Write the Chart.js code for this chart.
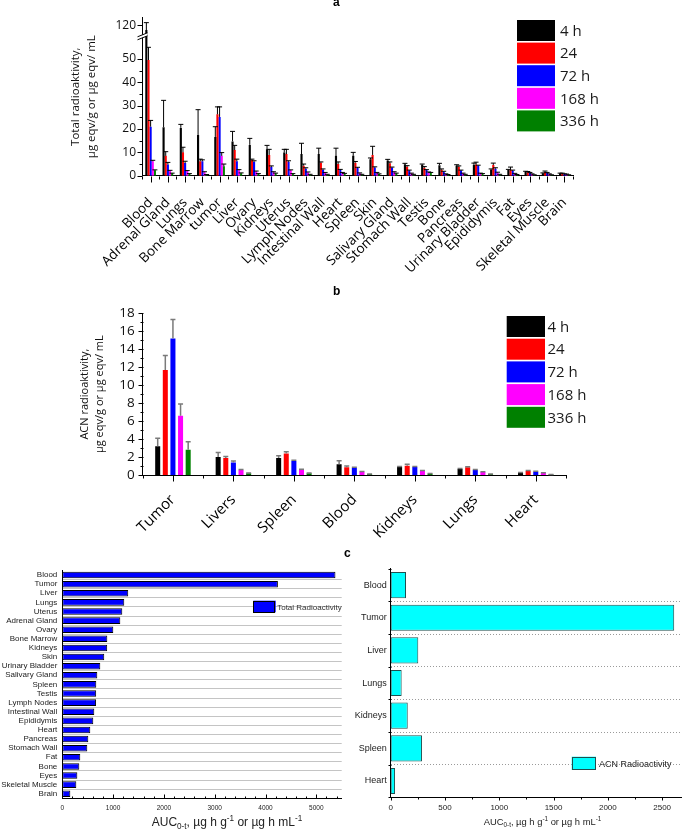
<!DOCTYPE html>
<html><head><meta charset="utf-8">
<script src="https://cdn.jsdelivr.net/npm/chart.js@4.4.1/dist/chart.umd.min.js"></script>
<style>
body{margin:0;background:#fff;width:683px;height:829px;position:relative;overflow:hidden;}
canvas{position:absolute;}
.pl{position:absolute;font:bold 12px "Liberation Sans",Arial,sans-serif;color:#000;line-height:12px;}
</style></head><body>
<canvas id="ca" width="683" height="290" style="left:0;top:0"></canvas>
<canvas id="cb" width="683" height="255" style="left:0;top:290px"></canvas>
<canvas id="cc1" width="345" height="284" style="left:0;top:545px"></canvas>
<canvas id="cc2" width="338" height="284" style="left:345px;top:545px"></canvas>
<div class="pl" style="left:333px;top:-4px">a</div>
<div class="pl" style="left:333px;top:285px">b</div>
<div class="pl" style="left:344px;top:547px">c</div>
<script>
// ---------- DATA ----------
const seriesLabels = ['4 h', '24', '72 h', '168 h', '336 h'];
const seriesColors = ['#000000', '#ff0000', '#0000ff', '#ff00ff', '#008000'];

const catsA = ['Blood','Adrenal Gland','Lungs','Bone Marrow','tumor','Liver','Ovary','Kidneys','Uterus','Lymph Nodes','Intestinal Wall','Heart','Spleen','Skin','Salivary Gland','Stomach Wall','Testis','Bone','Pancreas','Urinary Bladder','Epididymis','Fat','Eyes','Skeletal Muscle','Brain'];
const a4h    = [116, 20.8, 20.5, 17.4, 16.6, 14.7, 13.2, 11.3, 9.9, 9.3, 9.3, 8.5, 8.5, 7.0, 6.5, 4.9, 4.7, 4.5, 4.3, 4.7, 2.7, 2.4, 1.7, 1.0, 1.0];
const a4hErr = [6, 11.5, 1.5, 10.9, 4.4, 4.3, 2.8, 1.7, 1.4, 4.6, 2.5, 3.3, 1.5, 0.6, 0.5, 0.4, 0.3, 0.8, 0.4, 0.7, 0.2, 0.3, 0.2, 0.2, 0.1];
const a24    = [49.6, 8.5, 10, 6.2, 26.3, 11, 6.7, 8.9, 9.3, 4.3, 5.6, 5.0, 5.6, 8.9, 5.3, 3.8, 3.4, 2.6, 3.8, 4.8, 4.6, 2.6, 1.5, 1.6, 0.9];
const a24Err = [5.8, 1.8, 2.2, 0.9, 3.2, 2, 0.4, 2.4, 2, 0.7, 0.3, 0.9, 0.5, 3.7, 0.6, 0.5, 0.5, 0.3, 0.4, 1.0, 0.8, 1.1, 0.3, 0.4, 0.2];
const a72    = [21, 4.8, 5.4, 6.2, 25.2, 6.2, 6.0, 3.7, 6.0, 3.0, 2.6, 2.4, 3.3, 3.5, 3.4, 2.2, 2.4, 1.7, 2.2, 4.4, 3.0, 2.1, 1.3, 1.3, 0.7];
const a72Err = [2.7, 0.9, 0.8, 0.6, 4.3, 0.9, 0.4, 0.5, 0.4, 0.4, 0.3, 0.3, 0.3, 0.3, 0.3, 0.2, 0.2, 0.2, 0.2, 0.1, 0.4, 0.3, 0.1, 0.1, 0.1];
const a168   = [6.2, 2.1, 2.0, 1.5, 8.5, 2.3, 1.8, 1.5, 2.3, 1.4, 1.2, 1.2, 1.0, 1.2, 1.5, 1.0, 1.4, 0.7, 1.0, 1.0, 1.3, 0.9, 0.7, 0.7, 0.6];
const a168Err= [0.4, 0.2, 0.2, 0.2, 1.4, 0.3, 0.2, 0.2, 0.2, 0.2, 0.2, 0.2, 0.2, 0.2, 0.2, 0.1, 0.2, 0.1, 0.1, 0.1, 0.2, 0.1, 0.1, 0.1, 0.1];
const a336   = [2.3, 1.0, 0.8, 0.4, 4.0, 1.0, 0.8, 1.0, 0.8, 0.5, 0.5, 0.9, 0.5, 0.7, 1.0, 0.5, 1.3, 0.4, 0.5, 0.8, 0.5, 0.4, 0.3, 0.3, 0.3];
const a336Err= [0.2, 0.1, 0.1, 0.1, 1.0, 0.2, 0.1, 0.1, 0.1, 0.1, 0.1, 0.1, 0.1, 0.1, 0.1, 0.1, 0.1, 0.1, 0.1, 0.1, 0.1, 0.1, 0.1, 0.1, 0.1];
const yTicksA = [0, 10, 20, 30, 40, 50, 120];

const catsB = ['Tumor','Livers','Spleen','Blood','Kidneys','Lungs','Heart'];
const b4h    = [3.2, 2.0, 1.9, 1.2, 0.9, 0.67, 0.26];
const b4hErr = [0.9, 0.5, 0.25, 0.4, 0.05, 0.05, 0.03];
const b24    = [11.7, 1.9, 2.4, 0.85, 1.04, 0.85, 0.45];
const b24Err = [1.6, 0.15, 0.2, 0.15, 0.15, 0.08, 0.05];
const b72    = [15.2, 1.4, 1.55, 0.8, 0.9, 0.55, 0.37];
const b72Err = [2.1, 0.15, 0.1, 0.05, 0.05, 0.07, 0.05];
const b168   = [6.6, 0.55, 0.6, 0.35, 0.45, 0.33, 0.22];
const b168Err= [1.3, 0.05, 0.05, 0.04, 0.04, 0.04, 0.03];
const b336   = [2.8, 0.2, 0.2, 0.1, 0.15, 0.1, 0.05];
const b336Err= [0.9, 0.02, 0.02, 0.02, 0.02, 0.02, 0.01];
const yTicksB = [0, 2, 4, 6, 8, 10, 12, 14, 16, 18];

const catsC1 = ['Blood','Tumor','Liver','Lungs','Uterus','Adrenal Gland','Ovary','Bone Marrow','Kidneys','Skin','Urinary Bladder','Salivary Gland','Spleen','Testis','Lymph Nodes','Intestinal Wall','Epididymis','Heart','Pancreas','Stomach Wall','Fat','Bone','Eyes','Skeletal Muscle','Brain'];
const aucTotal = [5377, 4244, 1298, 1220, 1181, 1142, 1004, 886, 884, 826, 748, 689, 669, 667, 665, 630, 610, 551, 512, 492, 354, 335, 296, 276, 158];
const xTicksC1 = [0, 1000, 2000, 3000, 4000, 5000];

const catsC2 = ['Blood','Tumor','Liver','Lungs','Kidneys','Spleen','Heart'];
const aucACN = [141, 2611, 254, 101, 157, 288, 40];
const xTicksC2 = [0, 500, 1000, 1500, 2000, 2500];

// ---------- helpers ----------
const range = (a, b, s) => { const r = []; for (let v = a; v <= b + 1e-9; v += s) r.push(+v.toFixed(4)); return r; };
const OS = "'Open Sans', 'DejaVu Sans', sans-serif";
const LS = "'Liberation Sans', Arial, sans-serif";
const fixTicks = arr => (s => { s.ticks = arr.map(v => ({ value: v })); });
const plain = v => String(v);

// broken y axis (panel a)
const BRK = [[0, 0], [55, 0.812], [112, 0.8905], [126, 1]];
function toFrac(v) {
  for (let i = 1; i < BRK.length; i++) {
    if (v <= BRK[i][0] || i === BRK.length - 1) {
      const [v0, f0] = BRK[i - 1], [v1, f1] = BRK[i];
      return f0 + (v - v0) / (v1 - v0) * (f1 - f0);
    }
  }
}
function fromFrac(f) {
  for (let i = 1; i < BRK.length; i++) {
    if (f <= BRK[i][1] || i === BRK.length - 1) {
      const [v0, f0] = BRK[i - 1], [v1, f1] = BRK[i];
      return v0 + (f - f0) / (f1 - f0) * (v1 - v0);
    }
  }
}
class BrokenScale extends Chart.LinearScale {
  static id = 'broken';
  static defaults = {};
  getPixelForValue(v) {
    if (v === null || v === undefined || isNaN(v)) return NaN;
    return this.getPixelForDecimal(toFrac(v));
  }
  getValueForPixel(p) { return fromFrac(this.getDecimalForPixel(p)); }
}
Chart.register(BrokenScale);

// ---------- plugins ----------
const errorBars = {
  id: 'errorBars',
  afterDatasetsDraw(chart, args, o) {
    if (!o || !o.cap) return;
    const ctx = chart.ctx, ys = chart.scales.y;
    ctx.save();
    ctx.strokeStyle = o.color; ctx.lineWidth = o.width;
    chart.data.datasets.forEach((ds, di) => {
      if (!ds.errors) return;
      const meta = chart.getDatasetMeta(di);
      meta.data.forEach((bar, i) => {
        const top = ys.getPixelForValue(ds.data[i] + ds.errors[i]);
        const x = bar.x;
        ctx.beginPath();
        ctx.moveTo(x, bar.y); ctx.lineTo(x, top);
        ctx.moveTo(x - o.cap / 2, top); ctx.lineTo(x + o.cap / 2, top);
        ctx.stroke();
      });
    });
    ctx.restore();
  }
};
const tickMarks = {
  id: 'tickMarks',
  afterDraw(chart, args, o) {
    if (!o || !o.marks) return;
    const ctx = chart.ctx;
    ctx.save(); ctx.strokeStyle = '#000'; ctx.lineWidth = 1;
    o.marks.forEach(m => {
      const s = chart.scales[m.axis];
      ctx.beginPath();
      m.values.forEach(v => {
        const p = Math.round(s.getPixelForValue(v)) + 0.5;
        if (s.isHorizontal()) {
          const b = Math.round(s.top) + 0.5;
          ctx.moveTo(p, b); ctx.lineTo(p, b + m.dir * m.len);
        } else {
          const b = Math.round(s.right) + 0.5;
          ctx.moveTo(b, p); ctx.lineTo(b - m.dir * m.len, p);
        }
      });
      ctx.stroke();
    });
    ctx.restore();
  }
};
const boxLegend = {
  id: 'boxLegend',
  afterDraw(chart, args, o) {
    if (!o || !o.w) return;
    const ctx = chart.ctx;
    ctx.save();
    chart.data.datasets.forEach((ds, i) => {
      const y = o.y + i * o.step;
      ctx.fillStyle = ds.backgroundColor;
      ctx.fillRect(o.x, y, o.w, o.h);
      if (o.border) { ctx.strokeStyle = o.border; ctx.lineWidth = 1; ctx.strokeRect(Math.round(o.x) + 0.5, Math.round(y) + 0.5, Math.round(o.w) - 1, Math.round(o.h) - 1); }
      ctx.fillStyle = o.color; ctx.font = o.font; ctx.textBaseline = 'middle'; ctx.textAlign = 'left';
      ctx.fillText(ds.label, o.x + o.w + o.gap, y + o.h / 2 + 1);
    });
    ctx.restore();
  }
};
const richTitle = {
  id: 'richTitle',
  afterDraw(chart, args, o) {
    if (!o || !o.parts) return;
    const ctx = chart.ctx;
    ctx.save(); ctx.fillStyle = o.color; ctx.textBaseline = 'alphabetic'; ctx.textAlign = 'left';
    const fs = o.size, sm = fs * 0.68;
    let total = 0;
    o.parts.forEach(p => { ctx.font = ((p.sub || p.sup) ? sm : fs) + 'px ' + o.family; total += ctx.measureText(p.t).width; });
    let x = o.cx - total / 2;
    o.parts.forEach(p => {
      ctx.font = ((p.sub || p.sup) ? sm : fs) + 'px ' + o.family;
      const dy = p.sub ? fs * 0.22 : (p.sup ? -fs * 0.38 : 0);
      ctx.fillText(p.t, x, o.y + dy);
      x += ctx.measureText(p.t).width;
    });
    ctx.restore();
  }
};
const axisBreak = {
  id: 'axisBreak',
  afterDraw(chart, args, o) {
    if (!o || o.value === undefined) return;
    const ctx = chart.ctx, s = chart.scales.y;
    const y = s.getPixelForValue(o.value), x = Math.round(s.right) + 0.5;
    ctx.save();
    ctx.fillStyle = '#fff';
    ctx.beginPath();
    ctx.moveTo(x - 5, y + 3.5); ctx.lineTo(x + 5, y - 0.5); ctx.lineTo(x + 5, y - 3.5); ctx.lineTo(x - 5, y + 0.5); ctx.closePath();
    ctx.fill();
    ctx.strokeStyle = '#000'; ctx.lineWidth = 1;
    ctx.beginPath();
    ctx.moveTo(x - 5, y + 3.5); ctx.lineTo(x + 5, y - 0.5);
    ctx.moveTo(x - 5, y + 0.5); ctx.lineTo(x + 5, y - 3.5);
    ctx.stroke();
    ctx.restore();
  }
};
Chart.register(errorBars, tickMarks, boxLegend, richTitle, axisBreak);

const noLT = { legend: { display: false }, tooltip: { enabled: false } };

// ---------- Panel a ----------
const errsA = [a4hErr, a24Err, a72Err, a168Err, a336Err];
const dataA = [a4h, a24, a72, a168, a336];
new Chart(document.getElementById('ca'), {
  type: 'bar',
  data: {
    labels: catsA,
    datasets: dataA.map((d, i) => ({ label: seriesLabels[i], data: d, errors: errsA[i], backgroundColor: seriesColors[i] }))
  },
  options: {
    responsive: false, animation: false,
    layout: { padding: { left: 60, right: 110, top: 17.7, bottom: 0 } },
    datasets: { bar: { categoryPercentage: 0.62, barPercentage: 1 } },
    plugins: Object.assign({}, noLT, {
      errorBars: { color: '#000', width: 1, cap: 5 },
      boxLegend: { x: 517, y: 20, w: 38, h: 21, step: 22.6, gap: 5, font: "15px " + OS, color: '#1a1a1a' },
      tickMarks: { marks: [
        { axis: 'y', values: yTicksA, len: 5, dir: 1 },
        { axis: 'y', values: range(5, 45, 10), len: 3, dir: 1 },
        { axis: 'x', values: range(0, catsA.length - 1, 1), len: 6, dir: 1 },
        { axis: 'x', values: range(-0.5, catsA.length - 0.5, 1), len: 3, dir: 1 }
      ] },
      axisBreak: { value: 106 }
    }),
    scales: {
      x: {
        grid: { display: false, drawTicks: false }, border: { color: '#000' },
        ticks: { autoSkip: false, minRotation: 45, maxRotation: 45, padding: 19, color: '#000', font: { family: OS, size: 13.5 } },
        afterFit: s => { s.height = 114.3; }
      },
      y: {
        type: 'broken', min: 0, max: 126,
        grid: { display: false, drawTicks: false }, border: { color: '#000' },
        ticks: { autoSkip: false, padding: 6, color: '#111', font: { family: OS, size: 12 }, callback: plain },
        afterBuildTicks: fixTicks(yTicksA),
        afterFit: s => { s.width = 82; },
        title: { display: true, text: ['Total radioaktivity,', 'µg eqv/g or µg eqv/ mL'], color: '#111',
          font: { family: OS, size: 11.5, lineHeight: 1.4 }, padding: { top: 8, bottom: 0 } }
      }
    }
  }
});

// ---------- Panel b ----------
const errsB = [b4hErr, b24Err, b72Err, b168Err, b336Err];
const dataB = [b4h, b24, b72, b168, b336];
new Chart(document.getElementById('cb'), {
  type: 'bar',
  data: {
    labels: catsB,
    datasets: dataB.map((d, i) => ({ label: seriesLabels[i], data: d, errors: errsB[i], backgroundColor: seriesColors[i] }))
  },
  options: {
    responsive: false, animation: false,
    layout: { padding: { left: 70, right: 117, top: 23.3, bottom: 0 } },
    datasets: { bar: { categoryPercentage: 0.63, barPercentage: 0.66 } },
    plugins: Object.assign({}, noLT, {
      errorBars: { color: '#7a7a7a', width: 1.5, cap: 5 },
      boxLegend: { x: 506.7, y: 26, w: 38.3, h: 21, step: 22.7, gap: 2.5, font: "15px " + OS, color: '#1a1a1a' },
      tickMarks: { marks: [
        { axis: 'y', values: yTicksB, len: 5, dir: 1 },
        { axis: 'y', values: range(1, 17, 2), len: 3, dir: 1 },
        { axis: 'x', values: range(0, catsB.length - 1, 1), len: 6, dir: 1 },
        { axis: 'x', values: range(-0.5, catsB.length - 0.5, 1), len: 3, dir: 1 }
      ] }
    }),
    scales: {
      x: {
        grid: { display: false, drawTicks: false }, border: { color: '#000' },
        ticks: { autoSkip: false, minRotation: 45, maxRotation: 45, padding: 16, color: '#000', font: { family: OS, size: 15 } },
        afterFit: s => { s.height = 70; }
      },
      y: {
        min: 0, max: 18,
        grid: { display: false, drawTicks: false }, border: { color: '#000' },
        ticks: { autoSkip: false, padding: 8, color: '#111', font: { family: OS, size: 13.5 }, callback: plain },
        afterBuildTicks: fixTicks(yTicksB),
        afterFit: s => { s.width = 72.7; },
        title: { display: true, text: ['ACN radioaktivity,', 'µg eqv/g or µg eqv/ mL'], color: '#111',
          font: { family: OS, size: 11, lineHeight: 1.36 }, padding: { top: 7.5, bottom: 0 } }
      }
    }
  }
});

// ---------- Panel c (left) ----------
const aucTitle = [{ t: 'AUC' }, { t: '0-t', sub: true }, { t: ', µg h g' }, { t: '-1', sup: true }, { t: ' or µg h mL' }, { t: '-1', sup: true }];
new Chart(document.getElementById('cc1'), {
  type: 'bar',
  data: { labels: catsC1, datasets: [{ label: 'Total Radioactivity', data: aucTotal, backgroundColor: '#0000ff', borderColor: '#000', borderWidth: 1, borderSkipped: false, barPercentage: 0.72, categoryPercentage: 1 }] },
  options: {
    indexAxis: 'y', responsive: false, animation: false,
    layout: { padding: { left: 0, right: 3.3, top: 25.5, bottom: 0 } },
    plugins: Object.assign({}, noLT, {
      boxLegend: { x: 253.3, y: 55.7, w: 22.4, h: 11.6, step: 0, gap: 1.5, font: "8px " + LS, color: '#333', border: '#000' },
      tickMarks: { marks: [
        { axis: 'x', values: xTicksC1, len: 4, dir: -1 },
        { axis: 'x', values: range(200, 5400, 200), len: 2, dir: -1 }
      ] },
      richTitle: { parts: aucTitle, cx: 227, y: 281, size: 12, family: LS, color: '#222' }
    }),
    scales: {
      x: {
        min: 0, max: 5500,
        grid: { display: false, drawTicks: false }, border: { color: '#000' },
        ticks: { autoSkip: false, maxRotation: 0, padding: 6, color: '#222', font: { family: LS, size: 6.5 }, callback: plain },
        afterBuildTicks: fixTicks(xTicksC1),
        afterFit: s => { s.height = 30.7; }
      },
      y: {
        grid: { offset: true, drawTicks: false, color: c => c.index === 0 ? 'rgba(0,0,0,0)' : '#c4c4c4' },
        border: { color: '#000' },
        ticks: { autoSkip: false, padding: 5, color: '#222', font: { family: LS, size: 8 } },
        afterFit: s => { s.width = 62.3; }
      }
    }
  }
});

// ---------- Panel c (right) ----------
new Chart(document.getElementById('cc2'), {
  type: 'bar',
  data: { labels: catsC2, datasets: [{ label: 'ACN Radioactivity', data: aucACN, backgroundColor: '#00ffff', borderColor: '#1f4f4f', borderWidth: 1, borderSkipped: false, barPercentage: 0.8, categoryPercentage: 1 }] },
  options: {
    indexAxis: 'y', responsive: false, animation: false,
    layout: { padding: { left: 0, right: 1.3, top: 23.75, bottom: 0 } },
    plugins: Object.assign({}, noLT, {
      boxLegend: { x: 226.7, y: 211.7, w: 24.3, h: 13.3, step: 0, gap: 3, font: "9px " + LS, color: '#222', border: '#1f4f4f' },
      tickMarks: { marks: [
        { axis: 'x', values: xTicksC2, len: 3, dir: 1 },
        { axis: 'x', values: range(250, 2250, 500), len: 2, dir: 1 },
        { axis: 'y', values: range(-0.5, catsC2.length - 0.5, 1), len: 3, dir: 1 }
      ] },
      richTitle: { parts: aucTitle, cx: 197.5, y: 280, size: 9.4, family: LS, color: '#222' }
    }),
    scales: {
      x: {
        min: 0, max: 2680,
        grid: { display: false, drawTicks: false }, border: { color: '#000' },
        ticks: { autoSkip: false, maxRotation: 0, padding: 6, color: '#222', font: { family: LS, size: 8 }, callback: plain },
        afterBuildTicks: fixTicks(xTicksC2),
        afterFit: s => { s.height = 31.7; }
      },
      y: {
        grid: { offset: true, drawTicks: false, color: c => c.index === 0 ? 'rgba(0,0,0,0)' : '#9a9a9a' },
        border: { color: '#000', dash: [1, 2] },
        ticks: { autoSkip: false, padding: 4, color: '#222', font: { family: LS, size: 9 } },
        afterFit: s => { s.width = 45.7; }
      }
    }
  }
});
</script>
</body></html>
